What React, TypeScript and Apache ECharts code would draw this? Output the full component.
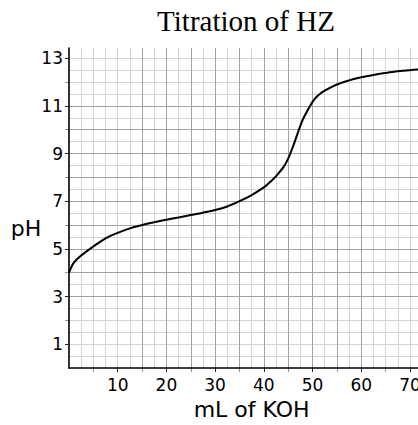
import React, { useEffect, useRef } from "react";
import * as echarts from "echarts";

const titleText = "Titration of HZ";
const xName = "mL of KOH";
const yName = "pH";

const mlValues = [0, 1, 2.5, 5, 7.5, 10, 12.5, 15, 17.5, 20, 22.5, 25, 27.5, 30, 32.5, 35, 37.5, 40, 41, 42, 43, 44, 45, 46, 47, 48, 49, 50, 51, 52.5, 55, 57.5, 60, 62.5, 65, 67.5, 70, 72.5, 75];
const phValues = [4.0, 4.42, 4.72, 5.1, 5.44, 5.67, 5.86, 6.0, 6.12, 6.22, 6.32, 6.42, 6.52, 6.63, 6.78, 7.0, 7.26, 7.58, 7.75, 7.94, 8.17, 8.42, 8.79, 9.3, 9.88, 10.42, 10.82, 11.17, 11.42, 11.64, 11.9, 12.07, 12.2, 12.3, 12.38, 12.45, 12.5, 12.54, 12.58];

const xMajorLabels = [10, 20, 30, 40, 50, 60, 70];
const xMinorTicks = [5, 15, 25, 35, 45, 55, 65];
const yMajorLabels = [1, 3, 5, 7, 9, 11, 13];
const yMinorTicks = [2, 4, 6, 8, 10, 12];

const X_MIN = 0;
const X_MAX = 75;
const Y_MIN = 0;
const Y_MAX = 13.43;

const DARK = "#a3a3a3";
const LIGHT = "#d4d4d4";
const SANS = "DejaVu Sans";

export default function App() {
  const ref = useRef<HTMLDivElement>(null);

  useEffect(() => {
    if (!ref.current) return;
    document.body.style.margin = "0";
    const chart = echarts.init(ref.current, null, { renderer: "svg" });

    const baseX = {
      type: "value",
      min: X_MIN,
      max: X_MAX,
      position: "bottom",
      offset: 0,
    };
    const baseY = {
      type: "value",
      min: Y_MIN,
      max: Y_MAX,
      position: "left",
      offset: 0,
    };

    chart.setOption({
      animation: false,
      grid: { left: 69, right: 1.7, top: 48, bottom: 52, containLabel: false },
      graphic: [
        {
          type: "text",
          x: 246,
          y: 21,
          style: {
            text: titleText,
            fontFamily: "Liberation Serif",
            fontSize: 29,
            fill: "#000",
            align: "center",
            verticalAlign: "middle",
          },
        },
        {
          type: "text",
          x: 26,
          y: 228,
          style: {
            text: yName,
            fontFamily: SANS,
            fontSize: 22,
            fill: "#000",
            align: "center",
            verticalAlign: "middle",
          },
        },
      ],
      xAxis: [
        {
          ...baseX,
          z: 2,
          interval: 10,
          name: xName,
          nameLocation: "middle",
          nameGap: 30,
          nameTextStyle: { fontFamily: SANS, fontSize: 22, color: "#000" },
          axisLine: { show: true, onZero: false, lineStyle: { color: "#000", width: 1.6 } },
          axisTick: { show: true, length: 4, customValues: xMajorLabels, lineStyle: { color: "#222", width: 1 } },
          axisLabel: {
            show: true,
            customValues: xMajorLabels,
            margin: 8,
            fontFamily: SANS,
            fontSize: 17,
            color: "#000",
          },
          splitLine: { show: true, showMinLine: false, showMaxLine: false, lineStyle: { color: DARK, width: 1 } },
        },
        {
          ...baseX,
          z: 1,
          interval: 5,
          axisLine: { show: false },
          axisTick: { show: true, length: 4, customValues: xMinorTicks, lineStyle: { color: "#999", width: 1 } },
          axisLabel: { show: false },
          splitLine: { show: true, showMinLine: false, showMaxLine: false, lineStyle: { color: DARK, width: 1 } },
        },
        {
          ...baseX,
          z: 0,
          interval: 2.5,
          axisLine: { show: false },
          axisTick: { show: false },
          axisLabel: { show: false },
          splitLine: { show: true, showMinLine: false, showMaxLine: false, lineStyle: { color: LIGHT, width: 1 } },
        },
      ],
      yAxis: [
        {
          ...baseY,
          z: 2,
          interval: 1,
          axisLine: { show: true, onZero: false, lineStyle: { color: "#000", width: 1.6 } },
          axisTick: { show: true, length: 4, customValues: yMajorLabels, lineStyle: { color: "#222", width: 1 } },
          axisLabel: {
            show: true,
            customValues: yMajorLabels,
            margin: 6,
            fontFamily: SANS,
            fontSize: 17,
            color: "#000",
          },
          splitLine: { show: true, showMinLine: false, showMaxLine: false, lineStyle: { color: DARK, width: 1 } },
        },
        {
          ...baseY,
          z: 1,
          interval: 1,
          axisLine: { show: false },
          axisTick: { show: true, length: 4, customValues: yMinorTicks, lineStyle: { color: "#999", width: 1 } },
          axisLabel: { show: false },
          splitLine: { show: true, showMinLine: false, showMaxLine: false, lineStyle: { color: DARK, width: 1 } },
        },
        {
          ...baseY,
          z: 0,
          interval: 0.5,
          axisLine: { show: false },
          axisTick: { show: false },
          axisLabel: { show: false },
          splitLine: { show: true, showMinLine: false, showMaxLine: false, lineStyle: { color: LIGHT, width: 1 } },
        },
      ],
      series: [
        {
          type: "line",
          xAxisIndex: 0,
          yAxisIndex: 0,
          z: 5,
          data: mlValues.map((x, i) => [x, phValues[i]]),
          smooth: 0.35,
          showSymbol: false,
          symbol: "none",
          clip: true,
          lineStyle: { color: "#000", width: 2 },
        },
      ],
    });

    return () => chart.dispose();
  }, []);

  return (
    <div style={{ width: 418, height: 425, overflow: "hidden", position: "relative" }}>
      <div ref={ref} style={{ width: 436, height: 425 }} />
    </div>
  );
}
